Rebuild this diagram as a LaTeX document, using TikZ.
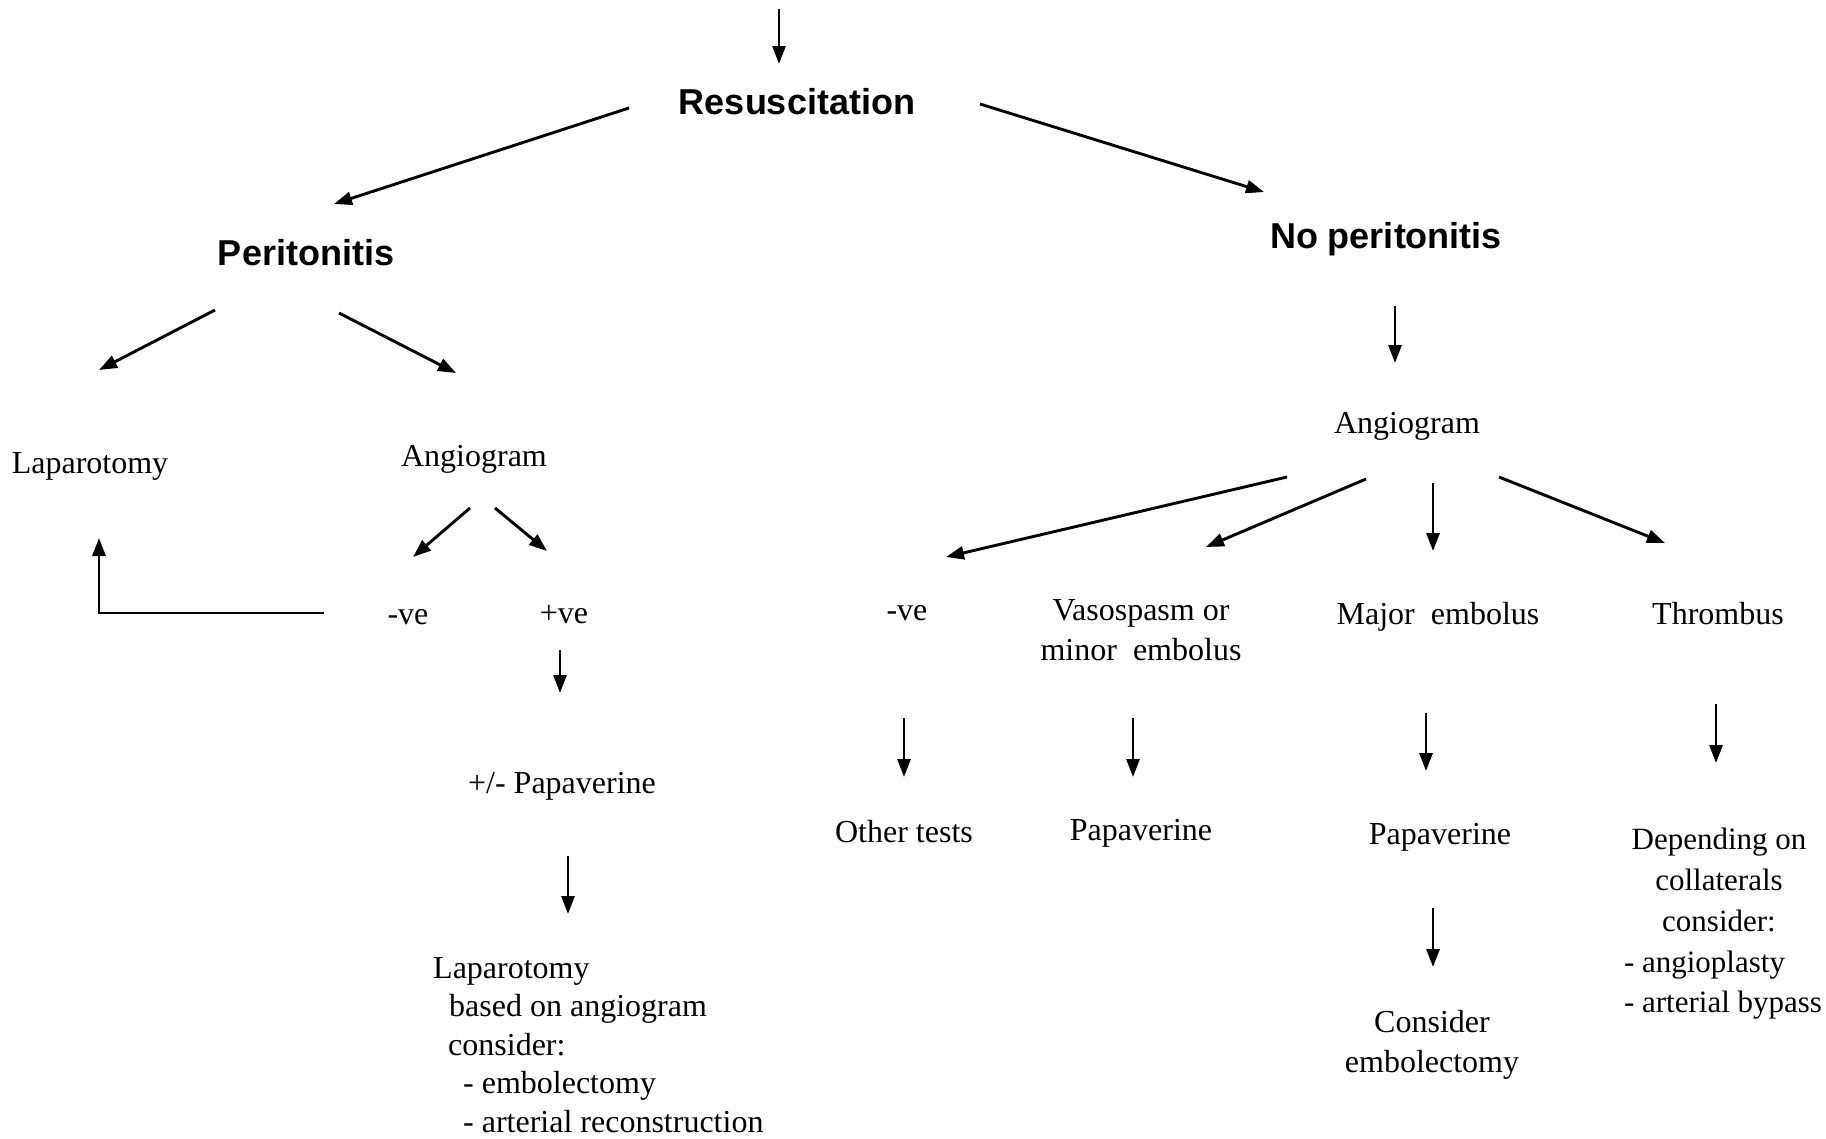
\documentclass[tikz,border=0pt]{standalone}
\usepackage{fontspec}
\setmainfont{Liberation Serif}
\newfontfamily\headfont{Liberation Sans}
\usetikzlibrary{arrows.meta,calc}
\begin{document}
\begin{tikzpicture}[x=1pt,y=-1pt,
  txt/.style={font=\fontsize{32}{38.5}\selectfont, inner sep=0pt},
  head/.style={font=\headfont\bfseries\fontsize{36}{40}\selectfont, inner sep=0pt},
  arr/.style={draw=black, line width=2.9pt, -{Triangle[length=18pt,width=13pt]}},
]
\useasboundingbox (0,0) rectangle (1826,1138);
\fill[white] (0,0) rectangle (1826,1138);

% nodes
\coordinate (top) at (779,9);
\node[head] (resus) at (797,102) {Resuscitation};
\node[head] (perit) at (306,253) {Peritonitis};
\node[head] (noperit) at (1386,239.5) {No peritonitis};

\node[txt] (lap) at (90,466.5) {Laparotomy};
\node[txt] (angL) at (474,459.5) {Angiogram};
\node[txt] (negL) at (408,617.5) {-ve};
\node[txt] (posL) at (564,614.5) {+ve};
\node[txt] (papL) at (562,786.5) {+/- Papaverine};
\node[txt, align=left, anchor=north west] (lapblock) at (433,957)
  {Laparotomy\\
   \hspace*{16pt}based on angiogram\\
   \hspace*{15pt}consider:\\
   \hspace*{30pt}- embolectomy\\
   \hspace*{30pt}- arterial reconstruction};

\node[txt] (angR) at (1407,426.5) {Angiogram};
\node[txt] (negR) at (907,613.5) {-ve};
\node[txt, align=center, font=\fontsize{32}{40}\selectfont] (vaso) at (1141,630) {Vasospasm or\\minor\ \ embolus};
\node[txt] (major) at (1438,616.5) {Major\ \ embolus};
\node[txt] (thromb) at (1718,614) {Thrombus};
\node[txt] (other) at (904,832) {Other tests};
\node[txt] (papV) at (1141,833.5) {Papaverine};
\node[txt] (papM) at (1440,837.5) {Papaverine};
\node[txt, align=center, font=\fontsize{32}{40}\selectfont] (consider) at (1432,1044.5) {Consider\\embolectomy};
\node[txt, align=center, font=\fontsize{31}{40.75}\selectfont] (depend) at (1719,924)
  {Depending on\\collaterals\\consider:\\\makebox[190pt][l]{- angioplasty}\\\makebox[190pt][l]{- arterial bypass}};

% connectors
\draw[arr] (top) -- ($(resus)+(-18,-38)$);
\draw[arr] ($(resus)+(-168,6)$) -- ($(perit)+(28,-49)$);
\draw[arr] ($(resus)+(183,2)$) -- ($(noperit)+(-122,-47.5)$);
\draw[arr] ($(perit)+(-91,57)$) -- ($(lap)+(9,-96.5)$);
\draw[arr] ($(perit)+(33,60)$) -- ($(angL)+(-18,-86.5)$);
\draw[arr] ($(angL)+(-4,48.5)$) -- ($(negL)+(5,-60.5)$);
\draw[arr] ($(angL)+(21,48.5)$) -- ($(posL)+(-17,-63.5)$);
\draw[arr, line join=miter] ($(negL)+(-84,-4.5)$) -| ($(lap)+(9,71.5)$);
\draw[arr] ($(posL)+(-4,35.5)$) -- ($(papL)+(-2,-93.5)$);
\draw[arr] ($(papL)+(6,69.5)$) -- ($(lapblock.north west)+(135,-43)$);

\draw[arr] ($(noperit)+(9,66.5)$) -- ($(angR)+(-12,-63.5)$);
\draw[arr] ($(angR)+(-120,50.5)$) -- ($(negR)+(39,-56.5)$);
\draw[arr] ($(angR)+(-41,52.5)$) -- ($(vaso)+(65,-83)$);
\draw[arr] ($(angR)+(26,56.5)$) -- ($(major)+(-5,-65.5)$);
\draw[arr] ($(angR)+(92,50.5)$) -- ($(thromb)+(-53,-71)$);
\draw[arr] ($(negR)+(-3,104.5)$) -- ($(other)+(0,-55)$);
\draw[arr] ($(vaso)+(-8,88)$) -- ($(papV)+(-8,-56.5)$);
\draw[arr] ($(major)+(-12,96.5)$) -- ($(papM)+(-14,-66.5)$);
\draw[arr] ($(thromb)+(-2,90)$) -- ($(depend)+(-3,-161)$);
\draw[arr] ($(papM)+(-7,70.5)$) -- ($(consider)+(1,-77.5)$);
\end{tikzpicture}
\end{document}
